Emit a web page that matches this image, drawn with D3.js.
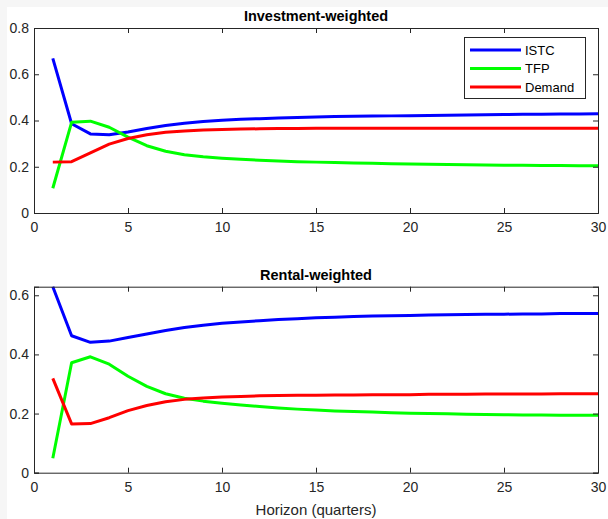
<!DOCTYPE html>
<html><head><meta charset="utf-8">
<script src="https://cdn.jsdelivr.net/npm/d3@7"></script>
<style>body{margin:0;padding:0;background:#fff;}svg{display:block;}</style>
</head><body><svg id="c" width="608" height="519"></svg>
<script>
const horizon = d3.range(1, 31);
const seriesNames = ["ISTC", "TFP", "Demand"];
const seriesColors = ["#0000ff", "#00ff00", "#ff0000"];

const invISTC = [0.669,0.386,0.342,0.338,0.350,0.365,0.378,0.388,0.396,0.401,0.405,0.408,0.411,0.413,0.415,0.417,0.418,0.419,0.420,0.421,0.422,0.423,0.424,0.425,0.426,0.427,0.427,0.428,0.428,0.429];
const invTFP = [0.107,0.392,0.397,0.371,0.328,0.291,0.267,0.252,0.243,0.237,0.232,0.228,0.225,0.222,0.220,0.218,0.216,0.215,0.213,0.212,0.211,0.210,0.209,0.208,0.207,0.206,0.205,0.205,0.204,0.204];
const invDemand = [0.220,0.222,0.260,0.298,0.322,0.338,0.349,0.355,0.359,0.361,0.363,0.364,0.365,0.365,0.366,0.366,0.366,0.366,0.366,0.366,0.366,0.366,0.366,0.366,0.366,0.366,0.366,0.366,0.366,0.366];

const renISTC = [0.629,0.463,0.441,0.445,0.457,0.469,0.481,0.491,0.499,0.505,0.510,0.514,0.518,0.521,0.524,0.526,0.528,0.530,0.531,0.532,0.533,0.534,0.535,0.536,0.536,0.537,0.537,0.538,0.538,0.538];
const renTFP = [0.049,0.372,0.392,0.367,0.326,0.292,0.267,0.252,0.242,0.235,0.229,0.224,0.219,0.215,0.212,0.209,0.207,0.205,0.203,0.201,0.200,0.199,0.198,0.197,0.196,0.195,0.195,0.194,0.194,0.194];
const renDemand = [0.319,0.165,0.166,0.186,0.210,0.227,0.240,0.248,0.253,0.256,0.258,0.260,0.261,0.262,0.262,0.263,0.263,0.264,0.264,0.264,0.265,0.265,0.265,0.266,0.266,0.266,0.266,0.267,0.267,0.267];

const xTicks = [0,5,10,15,20,25,30];
const yTicksTop = [0,0.2,0.4,0.6,0.8];
const yTicksBottom = [0,0.2,0.4,0.6];
const titles = ["Investment-weighted", "Rental-weighted"];
const xLabel = "Horizon (quarters)";

const svg = d3.select("#c");
svg.append("rect").attr("width",608).attr("height",519).attr("fill","#f6f6f6");
svg.append("rect").attr("x",7).attr("y",7).attr("width",601).attr("height",512).attr("fill","#fff");

const font = "'Liberation Sans', Arial, sans-serif";
const axisColor = "#262626";

const panels = [
  {top:28, bottom:213, ymax:0.8, yTicks:yTicksTop, data:[invISTC,invTFP,invDemand], title:titles[0], legend:true},
  {top:286.7, bottom:472.7, ymax:0.629, yTicks:yTicksBottom, data:[renISTC,renTFP,renDemand], title:titles[1], legend:false}
];

const x = d3.scaleLinear().domain([0,30]).range([34,598]);

panels.forEach(p => {
  const y = d3.scaleLinear().domain([0,p.ymax]).range([p.bottom,p.top]);
  const g = svg.append("g");
  p.data.forEach((vals,i) => {
    const line = d3.line().x((d,j)=>x(horizon[j])).y(d=>y(d));
    g.append("path").datum(vals).attr("d",line).attr("fill","none")
      .attr("stroke",seriesColors[i]).attr("stroke-width",3).attr("stroke-linejoin","round");
  });
  const xb = g.append("g").attr("transform",`translate(0,${p.bottom})`)
    .call(d3.axisBottom(x).tickValues(xTicks).tickSize(-5).tickPadding(9).tickFormat(d3.format("d")));
  const xt = g.append("g").attr("transform",`translate(0,${p.top})`)
    .call(d3.axisTop(x).tickValues(xTicks).tickSize(-5).tickFormat(""));
  const yl = g.append("g").attr("transform",`translate(34,0)`)
    .call(d3.axisLeft(y).tickValues(p.yTicks).tickSize(-5).tickPadding(5).tickFormat(d=>d===0?"0":d3.format(".1f")(d)));
  const yr = g.append("g").attr("transform",`translate(598,0)`)
    .call(d3.axisRight(y).tickValues(p.yTicks).tickSize(-5).tickFormat(""));
  [xb,xt,yl,yr].forEach(a=>{
    a.selectAll(".domain").attr("stroke",axisColor).attr("stroke-width",1);
    a.selectAll(".tick line").attr("stroke",axisColor).attr("stroke-width",1);
    a.selectAll("text").attr("fill",axisColor).style("font-family",font).style("font-size","14px");
  });
  svg.append("text").attr("x",316).attr("y",p.top-7).attr("text-anchor","middle")
    .style("font-family",font).style("font-size","14.5px").style("font-weight","bold").attr("fill","#000")
    .text(p.title);
  if (p.legend) {
    const lg = svg.append("g");
    lg.append("rect").attr("x",464.5).attr("y",37.5).attr("width",121).attr("height",61)
      .attr("fill","#fff").attr("stroke",axisColor).attr("stroke-width",1);
    seriesNames.forEach((n,i)=>{
      const cy = 50 + i*18.5;
      lg.append("line").attr("x1",470).attr("x2",521).attr("y1",cy).attr("y2",cy)
        .attr("stroke",seriesColors[i]).attr("stroke-width",3);
      lg.append("text").attr("x",525).attr("y",cy+4.5).style("font-family",font).style("font-size","13px")
        .attr("fill","#000").text(n);
    });
  }
});

svg.append("text").attr("x",316).attr("y",515).attr("text-anchor","middle")
  .style("font-family",font).style("font-size","15px").attr("fill",axisColor).text(xLabel);
</script>
</body></html>
